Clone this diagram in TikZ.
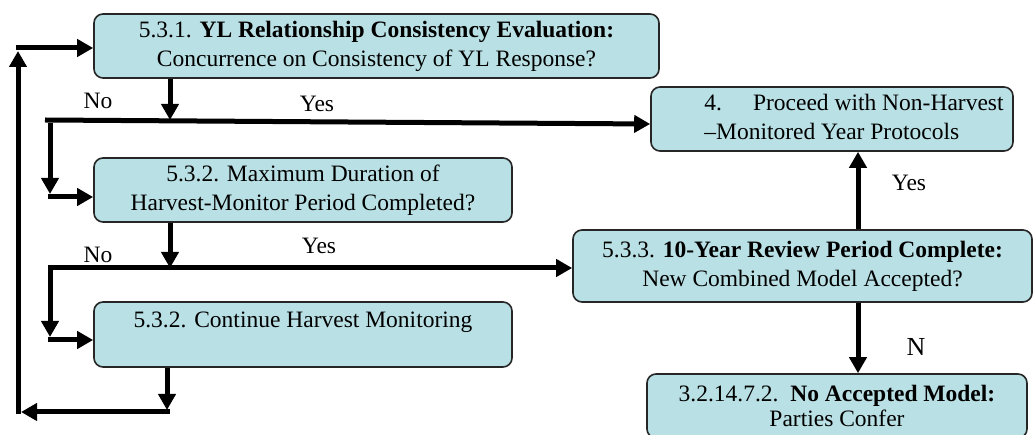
\documentclass[tikz,border=0pt]{standalone}
\usepackage{fontspec}
\setmainfont{Liberation Serif}
\usetikzlibrary{arrows.meta}
\usetikzlibrary{positioning}
\definecolor{boxfill}{RGB}{185,224,228}

\tikzset{
	box/.style={draw=black!85, line width=1.6pt, fill=boxfill, rounded corners=9pt, align=center, inner sep=0pt, font=\fontsize{23.5}{29}\selectfont},
	flow/.style={line width=5pt, ->},
	lbl/.style={inner sep=0pt, font=\fontsize{23.5}{28}\selectfont},
	>={Triangle[length=16pt,width=17pt]}
}

\begin{document}
\begin{tikzpicture}[x=1pt,y=-1pt]
	\useasboundingbox (0,0) rectangle (1034,435);
	\clip (0,0) rectangle (1034,435);
	
	% Boxes
	\node[box, minimum width=565pt, minimum height=64pt] (eval) at (376.5,46) {5.3.1. \textbf{YL Relationship Consistency Evaluation:}\\Concurrence on Consistency of YL Response?};
	\node[box, minimum width=362pt, minimum height=64pt] (proceed) at (832,119) {\hspace*{44pt}\begin{tabular}{@{}l@{}}4.\hspace{31pt}Proceed with Non-Harvest\\--Monitored Year Protocols\end{tabular}};
	\node[box, minimum width=418pt, minimum height=64pt] (maxdur) at (303,190) {5.3.2. Maximum Duration of\\Harvest-Monitor Period Completed?};
	\node[box, minimum width=418pt, minimum height=65pt] (cont) at (303,334.5) {5.3.2. Continue Harvest Monitoring\\\mbox{}};
	\node[box, minimum width=459pt, minimum height=72pt] (review) at (802.5,266) {5.3.3. \textbf{10-Year Review Period Complete:}\\New Combined Model Accepted?};
	\node[box, minimum width=380pt, minimum height=64pt, font=\fontsize{23.5}{25.5}\selectfont] (noacc) at (837,406) {3.2.14.7.2.\ \ \textbf{No Accepted Model:}\\Parties Confer};
	
	% Junctions
	\coordinate (j1) at (170,120);
	\coordinate (l1) at (45,120);
	\coordinate (j2) at (170,268);
	\coordinate (l2) at (50,268);
	\coordinate (j3) at (167,410);
	\coordinate (j4) at (858,0);
	
	% Arrows
	\draw[flow] (eval.south -| j1) -- (j1);
	\draw[flow] (l1) -- ([yshift=-5pt]proceed.west);
	\draw[flow] (50,123) -- (50,194);
	\draw[flow] (47.5,197) -- (maxdur.west |- 0,197);
	
	\draw[flow] (maxdur.south -| j2) -- (j2);
	\draw[flow,<->] (50,337) -- (l2) -- (review.west |- l2);
	\draw[flow] (47.5,340) -- (cont.west |- 0,340);
	
	\draw[flow] (cont.south -| j3) -- (j3);
	\draw[flow] (169.5,412) -- (21,412);
	\draw[flow] (18,414.5) -- (18,51);
	\draw[flow] (15.5,48) -- (eval.west |- 0,48);
	
	\draw[flow] (review.north -| j4) -- (proceed.south -| j4);
	\draw[flow] (review.south -| j4) -- (noacc.north -| j4);
	
	% Labels
	\node[lbl] (no1) at (98,101) {No};
	\node[lbl] (yes1) at (317,104) {Yes};
	\node[lbl] (no2) at (98,255) {No};
	\node[lbl] (yes2) at (319,246) {Yes};
	\node[lbl] (yes3) at (909,183) {Yes};
	\node[lbl, font=\fontsize{26}{30}\selectfont] (nlbl) at (916,347) {N};
\end{tikzpicture}
\end{document}
